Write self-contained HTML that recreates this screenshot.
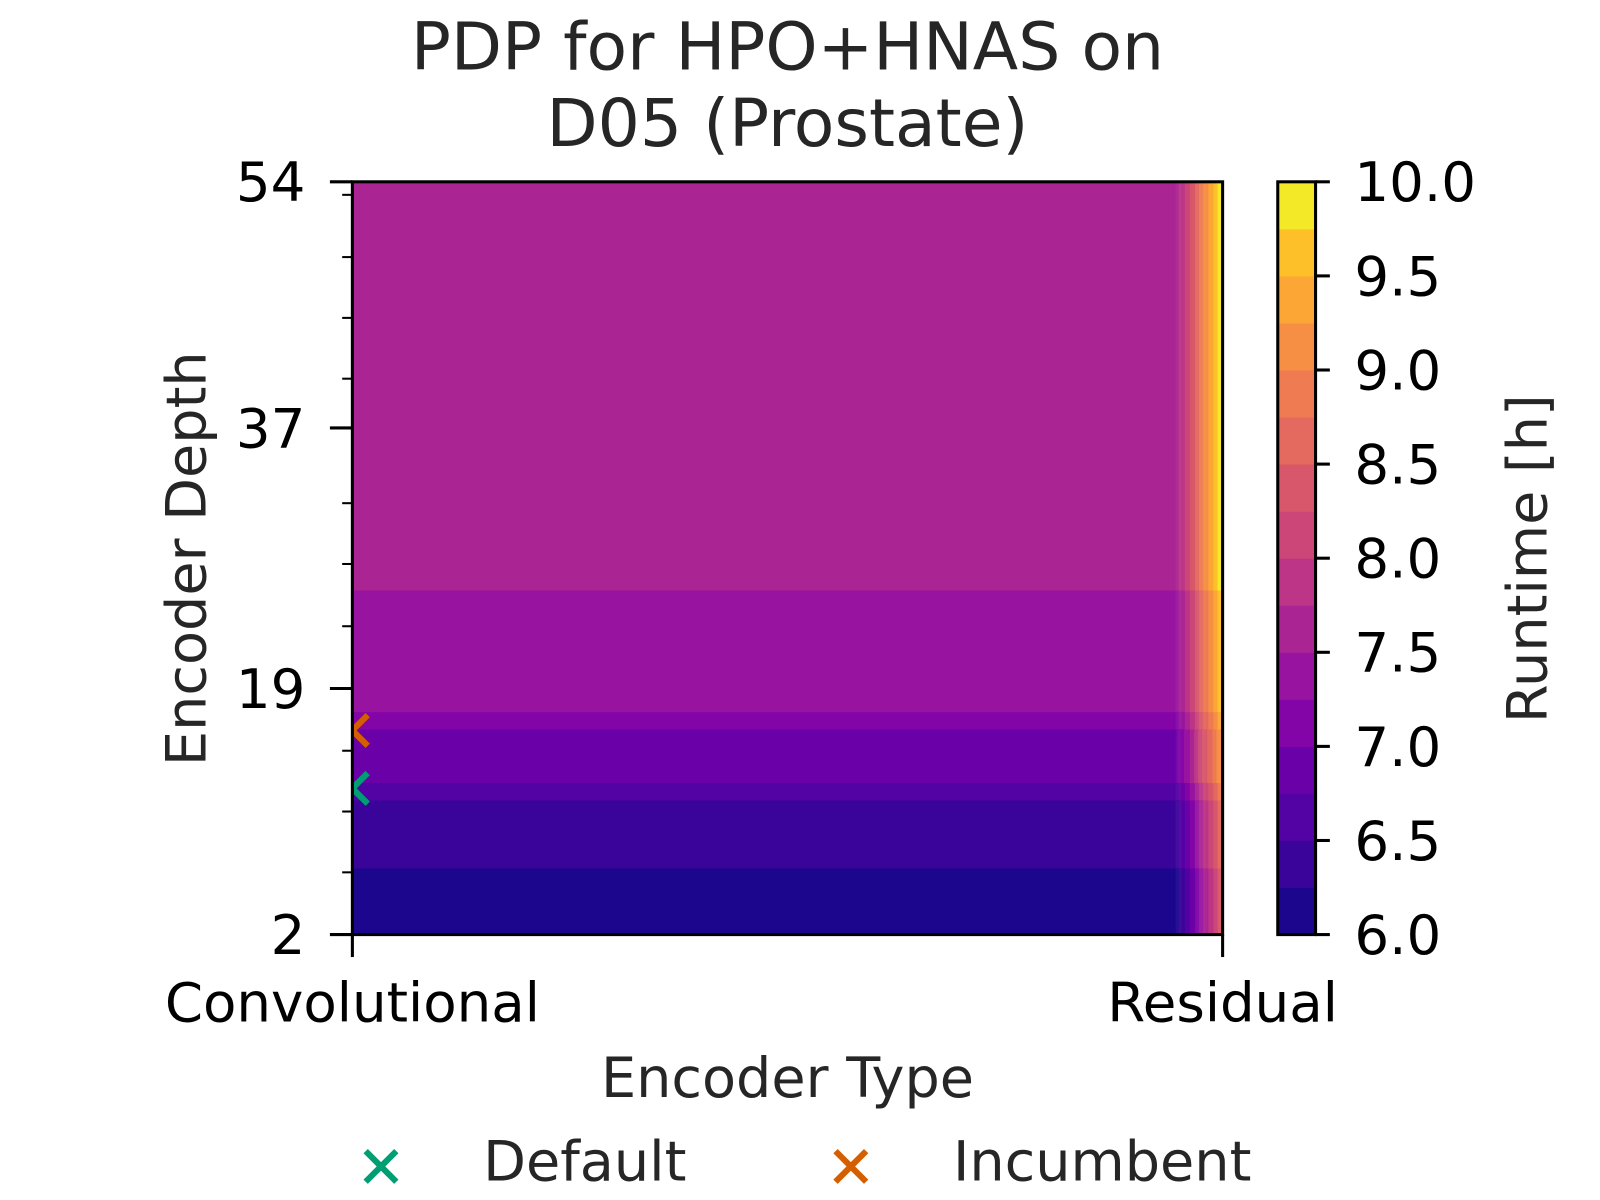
<!DOCTYPE html>
<html><head><meta charset="utf-8"><style>
html,body{margin:0;padding:0;background:#fff;}
svg{display:block;font-family:"DejaVu Sans","Liberation Sans",sans-serif;}
</style></head><body>
<svg id="chart" width="1600" height="1200" viewBox="0 0 1600 1200">
<g transform="scale(1.0214)">
<g id="title" fill="#262626" font-size="65" text-anchor="middle">
<text x="771" y="68">PDP for HPO+HNAS on</text>
<text x="771" y="143">D05 (Prostate)</text>
</g>
<defs><clipPath id="pc"><rect x="345" y="178" width="852" height="737"/></clipPath></defs>
<g id="plot" clip-path="url(#pc)"></g>
<g id="markers" clip-path="url(#pc)"></g>
<rect x="345" y="178" width="852" height="737" fill="none" stroke="#000" stroke-width="3"/>
<g id="axes"></g>
<g id="cbar"></g>
<text x="771" y="1074" font-size="54.5" fill="#262626" text-anchor="middle">Encoder Type</text>
<text transform="translate(201,547) rotate(-90)" font-size="54.5" fill="#262626" text-anchor="middle">Encoder Depth</text>
<text transform="translate(1514,547) rotate(-90)" font-size="54.5" fill="#262626" text-anchor="middle">Runtime [h]</text>
<g>
<g>
<path d="M358,1127 L388,1157 M388,1127 L358,1157" stroke="#009e73" stroke-width="6"/>
<text x="473" y="1156" font-size="54.5" fill="#262626">Default</text></g>
<g>
<path d="M818,1127 L848,1157 M848,1127 L818,1157" stroke="#d55e00" stroke-width="6"/>
<text x="933" y="1156" font-size="54.5" fill="#262626">Incumbent</text></g>
</g>
</g>
</svg>
<script>
const depthBreaks=[2,6.6,11.3,12.5,16.2,17.4,25.8,54];
const segRuntime=[6.1,6.35,6.6,6.9,7.1,7.35,7.6];
const residT=[0.945,0.96,0.97,0.98,0.99,1.0];
const residBump=[0,0.5,1.0,1.5,1.95,2.4];
const yTicks=[2,19,37,54];
const yMinor=[6.3,10.5,14.7,23.3,27.6,31.8,40.4,44.6,48.8,53.1];
const xCats=["Convolutional","Residual"];
const cbTicks=[6.0,6.5,7.0,7.5,8.0,8.5,9.0,9.5,10.0];
const levels=[6,6.25,6.5,6.75,7,7.25,7.5,7.75,8,8.25,8.5,8.75,9,9.25,9.5,9.75,10];
const palette=["#1b068d","#3a049a","#5302a3","#6a00a8","#8305a7","#9814a0","#ab2494","#bc3587","#cc4778","#d8576b","#e4695e","#ee7b51","#f68f44","#fca636","#fdc029","#f3e926"];
const markDefault={t:0,d:12.1};
const markIncumbent={t:0,d:16.1};
const NS="http://www.w3.org/2000/svg";
const X0=345,X1=1197,Y0=915,Y1=178;
function xs(t){return X0+t*(X1-X0);}
function ys(d){return Y0-(d-2)/(54-2)*(Y0-Y1);}
function cy(v){return 915-(v-6)/4*737;}
function mk(tag,at,parent){const e=document.createElementNS(NS,tag);for(const k in at)e.setAttribute(k,at[k]);parent.appendChild(e);return e;}
function colorFor(v){let i=Math.floor((v-6)/0.25);i=Math.max(0,Math.min(15,i));return palette[i];}
function bump(t){if(t<=residT[0])return 0;for(let i=1;i<residT.length;i++){if(t<=residT[i]){const f=(t-residT[i-1])/(residT[i]-residT[i-1]);return residBump[i-1]+f*(residBump[i]-residBump[i-1]);}}return residBump[residBump.length-1];}
const plot=document.getElementById('plot');
const tSplit=residT[0];
for(let s=0;s<segRuntime.length;s++){
 const ya=ys(depthBreaks[s+1]),yb=ys(depthBreaks[s]);
 const r=mk('rect',{x:X0,y:ya,width:xs(tSplit)-X0+1,height:yb-ya+0.5,fill:colorFor(segRuntime[s])},plot);
 
 
 for(let px=Math.floor(xs(tSplit));px<X1;px+=1){
  const t=(px+0.5-X0)/(X1-X0);
  const c=mk('rect',{x:px,y:ya,width:1.2,height:yb-ya+0.5,fill:colorFor(segRuntime[s]+bump(t))},plot);
  
  
 }
}
const mg=document.getElementById('markers');
[[markDefault,"#009e73","default-marker"],[markIncumbent,"#d55e00","incumbent-marker"]].forEach(([m,col,nm])=>{
 const x=xs(m.t),y=ys(m.d);
 const p=mk('path',{d:`M${x-15},${y-15} L${x+15},${y+15} M${x+15},${y-15} L${x-15},${y+15}`,stroke:col,'stroke-width':6,fill:'none'},mg);
 
 
});
const ax=document.getElementById('axes');
yTicks.forEach(v=>{const y=ys(v);
 mk('line',{x1:X0-22,x2:X0,y1:y,y2:y,stroke:'#000','stroke-width':3},ax);
 const t=mk('text',{x:X0-46,y:y+19,'font-size':53.5,'text-anchor':'end',fill:'#000'},ax);t.textContent=v;
 
 });
yMinor.forEach(v=>{const y=ys(v);mk('line',{x1:X0-10,x2:X0,y1:y,y2:y,stroke:'#000','stroke-width':2},ax);});
xCats.forEach((c,i)=>{const x=xs(i);
 mk('line',{x1:x,x2:x,y1:Y0,y2:Y0+22,stroke:'#000','stroke-width':3},ax);
 const t=mk('text',{x:x,y:Y0+85,'font-size':53.5,'text-anchor':'middle',fill:'#000'},ax);t.textContent=c;
 
 });
const cb=document.getElementById('cbar');
for(let i=0;i<palette.length;i++){
 const ya=cy(levels[i+1]),yb=cy(levels[i]);
 const r=mk('rect',{x:1251,y:ya,width:37,height:yb-ya+0.5,fill:palette[i]},cb);
 
 
}
mk('rect',{x:1251,y:178,width:37,height:737,fill:'none',stroke:'#000','stroke-width':3},cb);
cbTicks.forEach(v=>{const y=cy(v);
 mk('line',{x1:1288,x2:1302,y1:y,y2:y,stroke:'#000','stroke-width':3},cb);
 const t=mk('text',{x:1326,y:y+19,'font-size':53.5,fill:'#000'},cb);t.textContent=v.toFixed(1);
 
 });
</script>
</body></html>
